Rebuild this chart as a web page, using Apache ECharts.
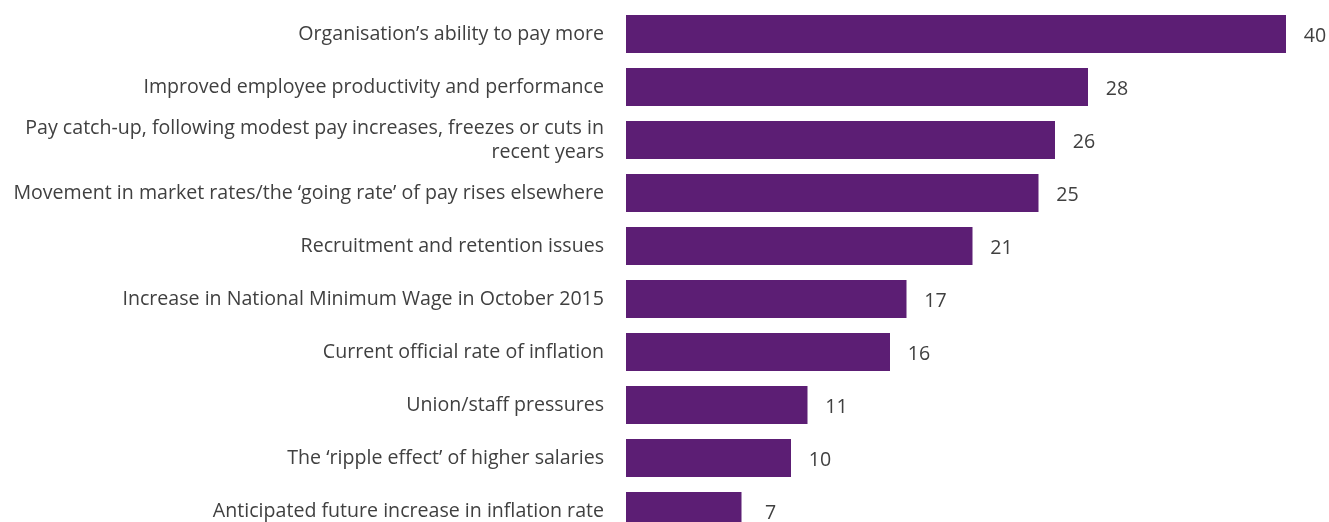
<!DOCTYPE html>
<html>
<head>
<meta charset="utf-8">
<script src="https://cdn.jsdelivr.net/npm/echarts@6/dist/echarts.min.js"></script>
<style>
  html, body { margin: 0; padding: 0; background: #ffffff; }
  #chart { width: 1329px; height: 522px; }
</style>
</head>
<body>
<div id="chart"></div>
<script>
// Factors influencing pay awards (% of respondents)
const categories = [
  'Organisation\u2019s ability to pay more',
  'Improved employee productivity and performance',
  'Pay catch-up, following modest pay increases, freezes or cuts in\nrecent years',
  'Movement in market rates/the \u2018going rate\u2019 of pay rises elsewhere',
  'Recruitment and retention issues',
  'Increase in National Minimum Wage in October 2015',
  'Current official rate of inflation',
  'Union/staff pressures',
  'The \u2018ripple effect\u2019 of higher salaries',
  'Anticipated future increase in inflation rate'
];
const values = [40, 28, 26, 25, 21, 17, 16, 11, 10, 7];

const FONT = '"Open Sans", "Noto Sans", sans-serif';
const chart = echarts.init(document.getElementById('chart'), null, { renderer: 'canvas' });

chart.setOption({
  animation: false,
  backgroundColor: '#ffffff',
  // the last row runs past the bottom edge, so the grid extends below the canvas
  grid: {
    left: 626, top: 7.5, width: 660, height: 530,
    containLabel: false,
    outerBoundsMode: 'none'
  },
  xAxis: {
    type: 'value', min: 0, max: 40,
    show: false
  },
  yAxis: {
    type: 'category',
    inverse: true,
    data: categories,
    axisLine: { show: false },
    axisTick: { show: false },
    splitLine: { show: false },
    axisLabel: {
      margin: 22,
      color: '#404040',
      fontFamily: FONT,
      fontSize: 19.6,
      lineHeight: 24,
      align: 'right'
    }
  },
  series: [{
    type: 'bar',
    data: values,
    barWidth: 38,
    itemStyle: { color: '#5c1e74' },
    label: {
      show: true,
      position: 'right',
      distance: 17,
      formatter: '{v|{c}}',
      rich: {
        v: {
          width: 24,
          align: 'center',
          color: '#404040',
          fontFamily: FONT,
          fontSize: 19.6,
          padding: [4, 0, 0, 0]
        }
      }
    }
  }]
});
</script>
</body>
</html>
